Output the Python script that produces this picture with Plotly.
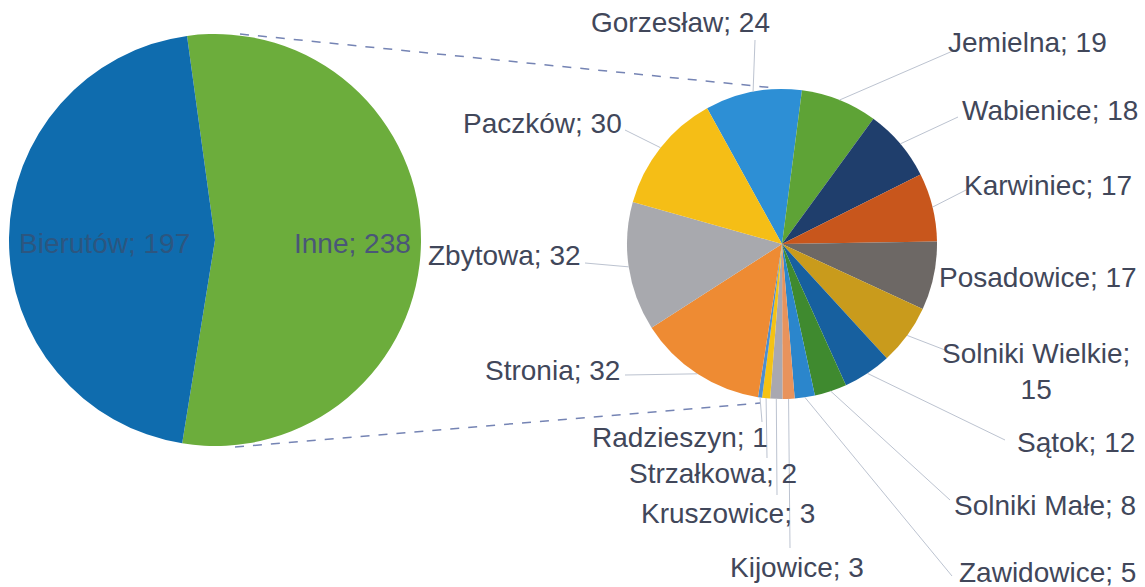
import math
import plotly.graph_objects as go

W, H = 1145, 587

# ---- data ----
main_labels = ["Inne", "Bierutów"]
main_values = [238, 197]
main_colors = ["#6cad3c", "#0f6cae"]

sub_labels = ["Gorzesław", "Jemielna", "Wabienice", "Karwiniec", "Posadowice",
              "Solniki Wielkie", "Sątok", "Solniki Małe", "Zawidowice", "Kijowice",
              "Kruszowice", "Strzałkowa", "Radzieszyn", "Stronia", "Zbytowa", "Paczków"]
sub_values = [24, 19, 18, 17, 17, 15, 12, 8, 5, 3, 3, 2, 1, 32, 32, 30]
sub_colors = ["#2d8fd5", "#5ea336", "#1f3e6c", "#c8561c", "#6d6865",
              "#c99b1c", "#17609f", "#3f8a2f", "#2b86cc", "#e8935c",
              "#a9a8b0", "#f4c214", "#4d8ed0", "#ee8b33", "#a8a9ae", "#f5be16"]

# ---- geometry (pixels) ----
L_CX, L_CY, L_R, L_ROT = 215, 240, 206, -7.8
R_CX, R_CY, R_R, R_ROT = 782, 244, 155, -28.9

def px(x):
    return x / W

def py(y):
    return 1 - y / H

fig = go.Figure()
fig.add_trace(go.Pie(
    labels=main_labels, values=main_values, sort=False, direction="clockwise",
    rotation=L_ROT, marker=dict(colors=main_colors, line=dict(width=0)),
    textinfo="none", hoverinfo="label+value", showlegend=False,
    domain=dict(x=[px(L_CX - L_R), px(L_CX + L_R)], y=[py(L_CY + L_R), py(L_CY - L_R)])))
fig.add_trace(go.Pie(
    labels=sub_labels, values=sub_values, sort=False, direction="clockwise",
    rotation=R_ROT, marker=dict(colors=sub_colors, line=dict(width=0)),
    textinfo="none", hoverinfo="label+value", showlegend=False,
    domain=dict(x=[px(R_CX - R_R), px(R_CX + R_R)], y=[py(R_CY + R_R), py(R_CY - R_R)])))

TXT = "#41475a"
FONT = "Liberation Sans, Arial, sans-serif"
FS = 28

annotations = []
shapes = []

# main pie labels (inside)
main_text_pos = {"Bierutów": (104, 243, "#2c5680"), "Inne": (352, 243, "#4a5678")}
for lab, val in zip(main_labels, main_values):
    x, y, c = main_text_pos[lab]
    annotations.append(dict(x=px(x), y=py(y), xref="paper", yref="paper",
                            xanchor="center", yanchor="middle",
                            text=f"{lab}; {val}", showarrow=False,
                            font=dict(family=FONT, size=FS, color=c)))

# sub pie labels with leader lines
label_pos = {
    "Gorzesław": (680, 22, 755, 40),
    "Jemielna": (1027, 42, 955, 50),
    "Wabienice": (1050, 110, 958, 117),
    "Karwiniec": (1048, 185, 966, 190),
    "Posadowice": (1038, 278, None, None),
    "Solniki Wielkie": (1036, 371, 945, 350),
    "Sątok": (1076, 442, 1005, 440),
    "Solniki Małe": (1045, 505, 950, 500),
    "Zawidowice": (1047, 572, 952, 576),
    "Kijowice": (797, 567, 790, 548),
    "Kruszowice": (728, 513, 777, 495),
    "Strzałkowa": (713, 473, 767, 458),
    "Radzieszyn": (680, 437, 762, 422),
    "Stronia": (552, 370, 625, 375),
    "Zbytowa": (504, 255, 585, 263),
    "Paczków": (542, 123, 625, 130),
}

total = sum(sub_values)
ang = R_ROT
for lab, val in zip(sub_labels, sub_values):
    span = 360.0 * val / total
    mid = math.radians(ang + span / 2)
    ang += span
    ex = R_CX + R_R * math.sin(mid)
    ey = R_CY - R_R * math.cos(mid)
    tx, ty, lx, ly = label_pos[lab]
    if lab == "Solniki Wielkie":
        text = f"{lab};<br>{val}"
    else:
        text = f"{lab}; {val}"
    annotations.append(dict(x=px(tx), y=py(ty), xref="paper", yref="paper",
                            xanchor="center", yanchor="middle",
                            text=text, showarrow=False, align="center",
                            font=dict(family=FONT, size=FS, color=TXT)))
    if lx is not None:
        shapes.append(dict(type="line", xref="paper", yref="paper",
                           x0=px(ex), y0=py(ey), x1=px(lx), y1=py(ly),
                           line=dict(color="#bcc3d0", width=1)))

# connector dashed lines between pies
for (x0, y0, x1, y1) in [(240, 34, 775, 88), (235, 447, 760, 403)]:
    shapes.append(dict(type="line", xref="paper", yref="paper",
                       x0=px(x0), y0=py(y0), x1=px(x1), y1=py(y1),
                       line=dict(color="#7584b4", width=1.5, dash="dash")))

fig.update_layout(width=W, height=H, margin=dict(l=0, r=0, t=0, b=0),
                  paper_bgcolor="white", plot_bgcolor="white",
                  annotations=annotations, shapes=shapes)
fig.write_html("out.html", config={"displayModeBar": False},
               post_script="document.body.style.margin='0';document.body.style.overflow='hidden';")
